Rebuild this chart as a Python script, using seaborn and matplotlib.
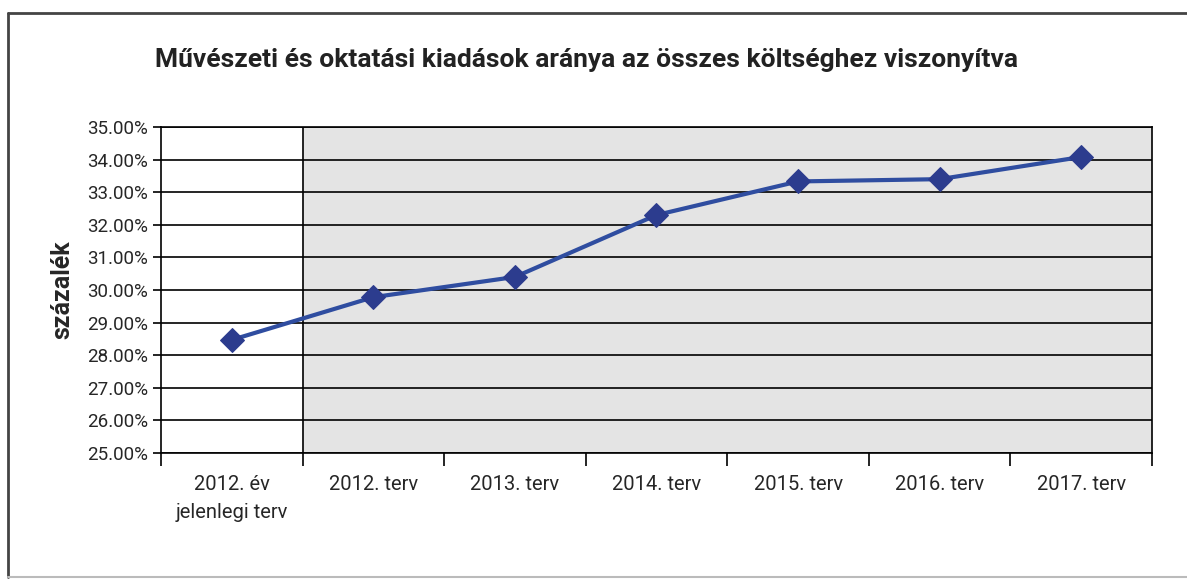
import pandas as pd
import matplotlib
matplotlib.use("Agg")
import matplotlib.pyplot as plt
import seaborn as sns
from matplotlib.ticker import FuncFormatter

# Chart data
categories = ["2012. év\njelenlegi terv", "2012. terv", "2013. terv", "2014. terv",
              "2015. terv", "2016. terv", "2017. terv"]
values = [28.47, 29.78, 30.40, 32.30, 33.33, 33.40, 34.08]

df = pd.DataFrame({"cat": categories, "val": values})

sns.set_style("white")
plt.rcParams['font.family'] = ['Roboto', 'DejaVu Sans']

fig = plt.figure(figsize=(11.87, 5.8), dpi=100)
ax = fig.add_axes([161 / 1187, 1 - 453 / 580, (1152 - 161) / 1187, (453 - 127) / 580])

# Shaded planned period and separator
ax.axvspan(0.5, 6.5, color="#e4e4e4", zorder=0)
ax.axvline(0.5, color="black", lw=1.2, zorder=1)

sns.lineplot(data=df, x="cat", y="val", ax=ax, color="#2f4da0", lw=3,
             marker="D", markersize=12, markerfacecolor="#2c3c8e",
             markeredgecolor="#2c3c8e", sort=False, zorder=3)

ax.set_xlim(-0.5, 6.5)
ax.set_ylim(25, 35)
ax.set_yticks(range(25, 36))
ax.yaxis.set_major_formatter(FuncFormatter(lambda v, p: f"{v:.2f}%"))
ax.yaxis.grid(True, color="black", lw=1.2)
ax.set_axisbelow(False)

# category labels at centres, tick marks at boundaries
ax.set_xticks(range(len(categories)))
ax.set_xticklabels(categories, fontsize=14.5, linespacing=1.6)
ax.set_xticks([i - 0.5 for i in range(len(categories) + 1)], minor=True)
ax.tick_params(axis="x", which="major", length=0, pad=16)
ax.tick_params(axis="x", which="minor", length=9, width=1.2, direction="out",
               color="black", bottom=True)
ax.tick_params(axis="y", length=6, width=1.2, direction="out", color="black",
               left=True, labelsize=13.5, pad=3)

for s in ax.spines.values():
    s.set_color("black")
    s.set_linewidth(1.2)

ax.set_xlabel("")
ax.set_ylabel("százalék", fontsize=18, fontweight="bold", labelpad=9)

fig.text(155 / 1187, 1 - 60 / 580,
         "Művészeti és oktatási kiadások aránya az összes költséghez viszonyítva",
         fontsize=19, fontweight="bold", va="center", ha="left", color="#222222")

# outer frame
fig.add_artist(plt.Line2D([8 / 1187, 8 / 1187], [1 - 13 / 580, 1 - 577 / 580],
                          transform=fig.transFigure, color="#444444", lw=2))
fig.add_artist(plt.Line2D([8 / 1187, 1], [1 - 13 / 580, 1 - 13 / 580],
                          transform=fig.transFigure, color="#444444", lw=2))
fig.add_artist(plt.Line2D([8 / 1187, 1], [1 - 577 / 580, 1 - 577 / 580],
                          transform=fig.transFigure, color="#bbbbbb", lw=1.5))

fig.savefig("out.png", dpi=100)
